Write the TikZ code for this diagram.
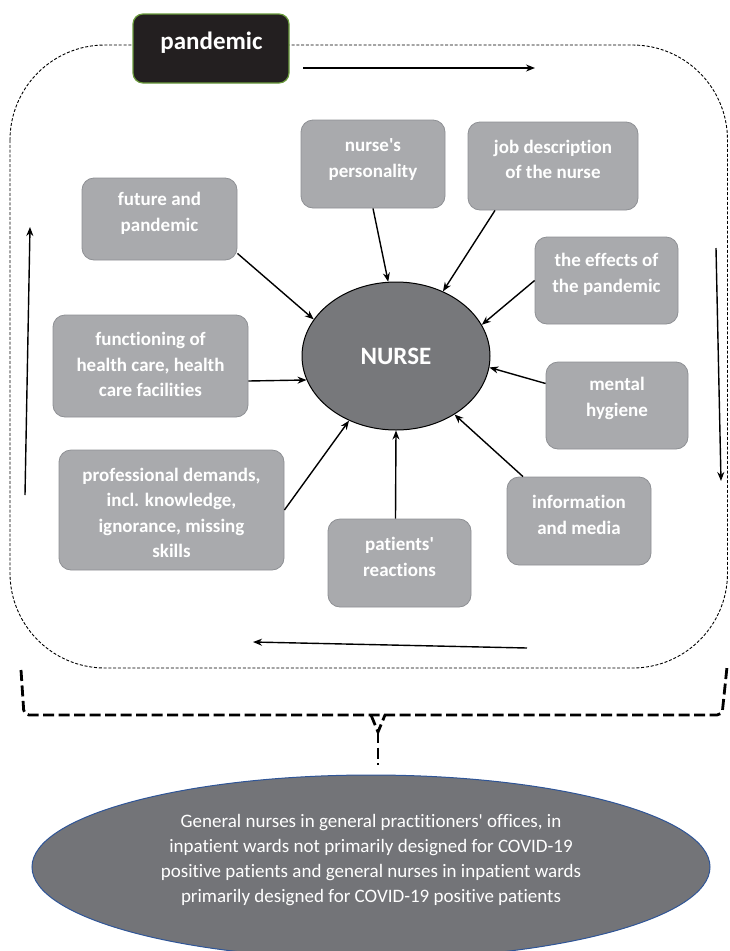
\documentclass[tikz,border=0pt]{standalone}
\usepackage{fontspec}
\setmainfont{Carlito}[Ligatures={TeXOff,NoCommon}]
\usetikzlibrary{arrows.meta,shapes.geometric}
\definecolor{boxgray}{HTML}{A9AAAD}
\definecolor{boxline}{HTML}{8E9094}
\definecolor{nursegray}{HTML}{77787B}
\definecolor{groupgray}{HTML}{737478}
\definecolor{groupline}{HTML}{2F5597}
\definecolor{pandblack}{HTML}{231F20}
\definecolor{pandgreen}{HTML}{6A9B3C}
\begin{document}
\begin{tikzpicture}[x=1pt,y=-1pt,line width=0.9pt,
  cbox/.style={draw=boxline,fill=boxgray,rounded corners=12pt,inner sep=0pt,line width=0.8pt},
  ctext/.style={text=white,font=\bfseries\fontsize{19}{25.5}\selectfont,align=center,inner sep=0pt},
  arr/.style={line width=1.4pt,-{Stealth[length=9pt,width=7pt]}}]
\useasboundingbox (0,0) rectangle (729,951);
\draw[dash pattern=on 3pt off 1.8pt,rounded corners=95pt] (10,45) rectangle (727.5,668);
\node[draw=pandgreen,fill=pandblack,line width=1.2pt,rounded corners=10pt,minimum width=156pt,minimum height=69pt,inner sep=0pt] (Pand) at (211,48.5) {};
\node[text=white,font=\bfseries\fontsize{25}{30}\selectfont,inner sep=0pt] (PandT) at (211.5,43) {pandemic};
\coordinate (T1) at (303,68);
\coordinate (T2) at (535,68);
\coordinate (R1) at (716,248);
\coordinate (R2) at (721,481);
\coordinate (B1) at (527,648);
\coordinate (B2) at (253,642);
\coordinate (L1) at (25,495);
\coordinate (L2) at (30,227);
\draw[arr] (T1) -- (T2);
\draw[arr] (R1) -- (R2);
\draw[arr] (B1) -- (B2);
\draw[arr] (L1) -- (L2);
\node[ellipse,draw=black,fill=nursegray,line width=1pt,minimum width=188pt,minimum height=148pt,inner sep=0pt,text=white,font=\bfseries\fontsize{25}{30}\selectfont] (Nurse) at (396,356) {NURSE};
\node[cbox,minimum width=155pt,minimum height=82pt] (Fut) at (159.5,219) {};
\node[ctext] (FutT) at (159.5,213.5) {future and\\pandemic};
\node[cbox,minimum width=144pt,minimum height=88pt] (Pers) at (373,164) {};
\node[ctext] (PersT) at (373,159.5) {nurse's\\personality};
\node[cbox,minimum width=170pt,minimum height=88pt] (Job) at (553,166) {};
\node[ctext] (JobT) at (553,159.5) {job description\\of the nurse};
\node[cbox,minimum width=143pt,minimum height=87pt] (Eff) at (606.5,280.5) {};
\node[ctext] (EffT) at (606.5,274.5) {the effects of\\the pandemic};
\node[cbox,minimum width=195pt,minimum height=102pt] (Func) at (150.5,366) {};
\node[ctext] (FuncT) at (150.5,364.5) {functioning of\\health care, health\\care facilities};
\node[cbox,minimum width=142pt,minimum height=87pt] (Ment) at (617,405.5) {};
\node[ctext] (MentT) at (617,398.5) {mental\\hygiene};
\node[cbox,minimum width=225pt,minimum height=120pt] (Prof) at (171.5,510) {};
\node[ctext] (ProfT) at (171.5,513) {professional demands,\\incl. knowledge,\\ignorance, missing\\skills};
\node[cbox,minimum width=144pt,minimum height=88pt] (Info) at (579,521) {};
\node[ctext] (InfoT) at (579,515) {information\\and media};
\node[cbox,minimum width=143pt,minimum height=88pt] (Pat) at (399.5,563) {};
\node[ctext] (PatT) at (399.5,557) {patients'\\reactions};
\draw[arr] ([yshift=7pt]Fut.south east) -- (Nurse.156);
\draw[arr] (Pers.south) -- (Nurse.96);
\draw[arr] ([xshift=-58pt]Job.south) -- (Nurse.54);
\draw[arr] (Eff.west) -- (Nurse.20);
\draw[arr] ([yshift=-15pt]Func.east) -- (Nurse.195);
\draw[arr] ([yshift=22pt]Ment.west) -- (Nurse.-7);
\draw[arr] (Prof.east) -- (Nurse.-126);
\draw[arr] ([xshift=-56pt]Info.north) -- (Nurse.-45);
\draw[arr] ([xshift=-4pt]Pat.north) -- (Nurse.-90);
\begin{scope}[line width=2.8pt,dash pattern=on 11pt off 4.5pt]
\draw[rounded corners=5pt] (21,670) -- (24,715) -- (722,715) -- (727,667);
\draw (371,715) -- (378,732) -- (385,715);
\draw (378,732) -- (378,765);
\end{scope}
\node[ellipse,draw=groupline,fill=groupgray,line width=1pt,minimum width=678pt,minimum height=184pt,inner sep=0pt] (Group) at (371,867) {};
\node[text=white,font=\fontsize{19}{25}\selectfont,align=center,inner sep=0pt] (GroupT) at (371,860) {General nurses in general practitioners' offices, in\\inpatient wards not primarily designed for COVID-19\\positive patients and general nurses in inpatient wards\\primarily designed for COVID-19 positive patients};
\end{tikzpicture}
\end{document}
